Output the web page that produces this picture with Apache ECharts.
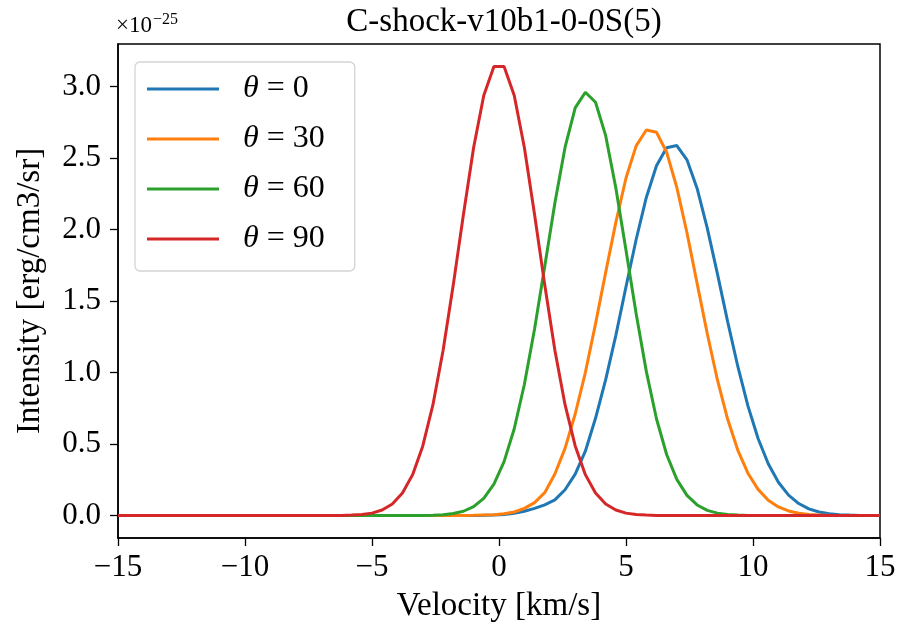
<!DOCTYPE html>
<html><head><meta charset="utf-8">
<script src="https://cdn.jsdelivr.net/npm/echarts@6/dist/echarts.min.js"></script>
<style>html,body{margin:0;padding:0;background:#fff}#c{width:902px;height:628px}</style>
</head><body><div id="c"></div>
<script>
const velocity = [-15,-14.6,-14.2,-13.8,-13.4,-13,-12.6,-12.2,-11.8,-11.4,-11,-10.6,-10.2,-9.8,-9.4,-9,-8.6,-8.2,-7.8,-7.4,-7,-6.6,-6.2,-5.8,-5.4,-5,-4.6,-4.2,-3.8,-3.4,-3,-2.6,-2.2,-1.8,-1.4,-1,-0.6,-0.2,0.2,0.6,1,1.4,1.8,2.2,2.6,3,3.4,3.8,4.2,4.6,5,5.4,5.8,6.2,6.6,7,7.4,7.8,8.2,8.6,9,9.4,9.8,10.2,10.6,11,11.4,11.8,12.2,12.6,13,13.4,13.8,14.2,14.6,15];
// intensities in units of 1e-25 erg/cm3/sr
const theta0 = [0,0,0,0,0,0,0,0,0,0,0,0,0,0,0,0,0,0,0,0,0,0,0,0,0,0,0,0,0,0,0,0,0,0,0,0.001,0.002,0.004,0.008,0.016,0.03,0.05,0.075,0.11,0.18,0.29,0.45,0.68,0.95,1.26,1.6,1.93,2.224,2.446,2.572,2.587,2.487,2.287,2.01,1.69,1.358,1.044,0.767,0.539,0.362,0.233,0.143,0.084,0.047,0.025,0.013,0.006,0.003,0.001,0,0];
const theta30 = [0,0,0,0,0,0,0,0,0,0,0,0,0,0,0,0,0,0,0,0,0,0,0,0,0,0,0,0,0,0,0,0,0,0,0.001,0.002,0.004,0.006,0.012,0.025,0.05,0.09,0.16,0.29,0.47,0.71,1.0,1.34,1.70,2.05,2.36,2.585,2.696,2.68,2.54,2.294,1.977,1.623,1.271,0.948,0.675,0.458,0.296,0.183,0.107,0.06,0.032,0.016,0.008,0.004,0.002,0.001,0,0,0,0];
const theta60 = [0,0,0,0,0,0,0,0,0,0,0,0,0,0,0,0,0,0,0,0,0,0,0,0,0,0,0,0,0,0,0.001,0.002,0.006,0.014,0.03,0.062,0.12,0.22,0.377,0.607,0.918,1.305,1.742,2.185,2.574,2.85,2.96,2.89,2.656,2.29,1.855,1.411,1.008,0.677,0.427,0.253,0.141,0.074,0.036,0.017,0.007,0.003,0.001,0,0,0,0,0,0,0,0,0,0,0,0,0];
const theta90 = [0,0,0,0,0,0,0,0,0,0,0,0,0,0,0,0,0,0,0,0,0,0,0.001,0.003,0.007,0.017,0.039,0.081,0.157,0.286,0.487,0.775,1.156,1.613,2.105,2.571,2.937,3.14,3.14,2.937,2.571,2.105,1.613,1.156,0.775,0.487,0.286,0.157,0.081,0.039,0.017,0.007,0.003,0.001,0,0,0,0,0,0,0,0,0,0,0,0,0,0,0,0,0,0,0,0,0,0];
const seriesNames = ['θ = 0','θ = 30','θ = 60','θ = 90'];
const seriesValues = [theta0, theta30, theta60, theta90];
const colors = ['#1f77b4','#ff7f0e','#2ca02c','#d62728'];
const yTickValues = [0,0.5,1.0,1.5,2.0,2.5,3.0];
const xTickValues = [-15,-10,-5,0,5,10,15];
const titleText = 'C-shock-v10b1-0-0S(5)';
const xLabel = 'Velocity [km/s]';
const yLabel = 'Intensity [erg/cm3/sr]';

const FONT = 'Liberation Serif';
const chart = echarts.init(document.getElementById('c'), null, {renderer:'canvas'});
const minus = v => (v < 0 ? '\u2212' + Math.abs(v) : String(v));

chart.setOption({
  animation: false,
  backgroundColor: '#fff',
  color: colors,
  title: {
    text: titleText, left: 499, top: 1, textAlign: 'center',
    textStyle: {fontFamily: FONT, fontSize: 33, fontWeight: 'normal', color: '#000'}
  },
  grid: {left: 118, right: 22, top: 44, bottom: 89, show: true, borderColor: '#000', borderWidth: 1.5, containLabel: false},
  legend: {
    orient: 'vertical', left: 135, top: 62,
    data: seriesNames,
    icon: 'rect', itemWidth: 72, itemHeight: 3, itemGap: 18,
    padding: [11, 30, 16, 12],
    backgroundColor: '#fff', borderColor: '#d4d4d4', borderWidth: 1.3, borderRadius: 5,
    formatter: name => '{t|θ}{n|' + name.slice(1) + '}',
    textStyle: {
      fontFamily: FONT, fontSize: 32, color: '#000', lineHeight: 32,
      rich: {
        t: {fontFamily: FONT, fontSize: 32, fontStyle: 'italic', color: '#000', padding: [0,0,0,19]},
        n: {fontFamily: FONT, fontSize: 32, color: '#000'}
      }
    }
  },
  xAxis: {
    type: 'value', min: -15, max: 15, interval: 5,
    name: xLabel, nameLocation: 'middle', nameGap: 52,
    nameTextStyle: {fontFamily: FONT, fontSize: 33, color: '#000'},
    axisLine: {show: true, onZero: false, lineStyle: {color: '#000', width: 1.5}},
    axisTick: {show: true, inside: false, length: 8, lineStyle: {color: '#000', width: 1.3}},
    axisLabel: {fontFamily: FONT, fontSize: 31, color: '#000', margin: 14, formatter: v => minus(v)},
    splitLine: {show: false}
  },
  yAxis: {
    type: 'value', min: -0.157, max: 3.297,
    name: yLabel, nameLocation: 'middle', nameGap: 71,
    nameTextStyle: {fontFamily: FONT, fontSize: 33, color: '#000'},
    axisLine: {show: true, onZero: false, lineStyle: {color: '#000', width: 1.5}},
    axisTick: {show: true, inside: false, length: 8, customValues: yTickValues, lineStyle: {color: '#000', width: 1.3}},
    axisLabel: {fontFamily: FONT, fontSize: 31, color: '#000', margin: 17, customValues: yTickValues, formatter: v => v.toFixed(1)},
    splitLine: {show: false}
  },
  graphic: [
    {type: 'text', left: 116, top: 12, style: {
      text: '{a|×10}{b|\u221225}', fill: '#000',
      rich: {
        a: {fontFamily: FONT, fontSize: 23, fill: '#000'},
        b: {fontFamily: FONT, fontSize: 16, fill: '#000', padding: [0,0,12,1]}
      }
    }}
  ],
  series: seriesValues.map((vals, i) => ({
    name: seriesNames[i], type: 'line', showSymbol: false, symbol: 'none',
    data: velocity.map((v, j) => [v, vals[j]]),
    lineStyle: {width: 3, color: colors[i]},
    itemStyle: {color: colors[i]},
    clip: true
  }))
});
</script></body></html>
